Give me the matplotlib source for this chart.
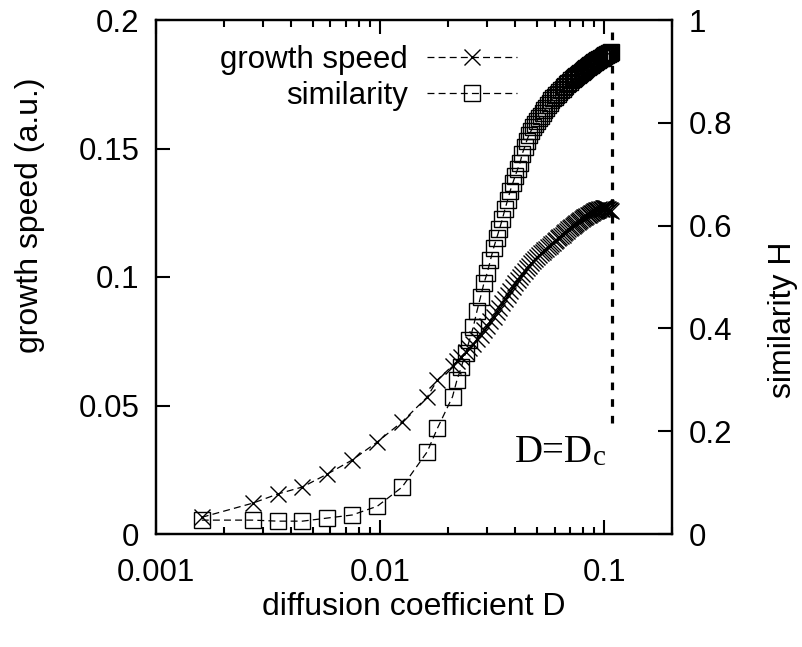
import matplotlib
matplotlib.use('Agg')
from matplotlib import pyplot as plt
from matplotlib.ticker import FixedLocator, FixedFormatter, LogLocator, NullFormatter

plt.rcParams['font.family'] = ['Liberation Sans', 'DejaVu Sans']
plt.rcParams['lines.scale_dashes'] = False

# diffusion coefficient D (x values shared by both series)
D = [0.0016, 0.0027, 0.0035, 0.0045, 0.0058, 0.0075, 0.0097, 0.0125, 0.0162, 0.018,
     0.021, 0.022, 0.023, 0.024, 0.025, 0.026, 0.027, 0.028, 0.029, 0.030,
     0.031, 0.032, 0.033, 0.034, 0.035, 0.036, 0.037, 0.038, 0.039, 0.040,
     0.041, 0.042, 0.043, 0.044, 0.045, 0.046, 0.047, 0.048, 0.049, 0.050,
     0.051, 0.052, 0.053, 0.054, 0.055, 0.056, 0.057, 0.058, 0.059, 0.060,
     0.061, 0.062, 0.063, 0.064, 0.065, 0.066, 0.067, 0.068, 0.069, 0.070,
     0.071, 0.072, 0.073, 0.074, 0.075, 0.076, 0.077, 0.078, 0.079, 0.080,
     0.081, 0.082, 0.083, 0.084, 0.085, 0.086, 0.087, 0.088, 0.089, 0.090,
     0.091, 0.092, 0.093, 0.094, 0.095, 0.096, 0.097, 0.098, 0.099, 0.100,
     0.101, 0.102, 0.103, 0.104, 0.105, 0.106, 0.107]

# growth speed (a.u.), left axis
speed = [0.0065, 0.0120, 0.0156, 0.0183, 0.0233, 0.0288, 0.0358, 0.0436, 0.0533, 0.0600,
         0.0655, 0.0672, 0.0690, 0.0707, 0.0724, 0.0741, 0.0758, 0.0775, 0.0792, 0.0809,
         0.0827, 0.0845, 0.0862, 0.0880, 0.0897, 0.0913, 0.0930, 0.0946, 0.0961, 0.0975,
         0.0988, 0.1000, 0.1012, 0.1023, 0.1034, 0.1044, 0.1053, 0.1062, 0.1070, 0.1078,
         0.1085, 0.1092, 0.1098, 0.1104, 0.1110, 0.1116, 0.1122, 0.1128, 0.1134, 0.1140,
         0.1145, 0.1150, 0.1155, 0.1160, 0.1165, 0.1170, 0.1175, 0.1180, 0.1185, 0.1190,
         0.1194, 0.1198, 0.1202, 0.1206, 0.1210, 0.1214, 0.1218, 0.1222, 0.1226, 0.1229,
         0.1232, 0.1235, 0.1238, 0.1241, 0.1243, 0.1245, 0.1248, 0.1250, 0.1252, 0.1255,
         0.1257, 0.1259, 0.1261, 0.1262, 0.1264, 0.1265, 0.1266, 0.1267, 0.1268, 0.1268,
         0.1268, 0.1267, 0.1266, 0.1264, 0.1262, 0.1260, 0.1258]

# similarity H, right axis
similarity = [0.027, 0.027, 0.025, 0.025, 0.031, 0.037, 0.054, 0.091, 0.160, 0.206,
              0.267, 0.300, 0.325, 0.352, 0.377, 0.403, 0.434, 0.461, 0.488, 0.508,
              0.533, 0.556, 0.575, 0.593, 0.612, 0.632, 0.650, 0.668, 0.683, 0.697,
              0.710, 0.722, 0.740, 0.752, 0.765, 0.776, 0.784, 0.792, 0.798, 0.804,
              0.809, 0.814, 0.819, 0.824, 0.829, 0.834, 0.839, 0.844, 0.848, 0.851,
              0.854, 0.857, 0.860, 0.863, 0.866, 0.869, 0.872, 0.875, 0.878, 0.880,
              0.883, 0.885, 0.887, 0.889, 0.891, 0.893, 0.895, 0.897, 0.899, 0.901,
              0.903, 0.905, 0.907, 0.908, 0.910, 0.912, 0.913, 0.915, 0.916, 0.918,
              0.919, 0.920, 0.922, 0.923, 0.925, 0.926, 0.927, 0.928, 0.929, 0.930,
              0.931, 0.932, 0.933, 0.934, 0.935, 0.936, 0.937]

D_c = 0.1075
D_c_span = [0.215, 0.978]   # on similarity axis

x_ticks = [0.001, 0.01, 0.1]
x_tick_labels = ['0.001', '0.01', '0.1']
speed_ticks = [0, 0.05, 0.1, 0.15, 0.2]
speed_tick_labels = ['0', '0.05', '0.1', '0.15', '0.2']
sim_ticks = [0, 0.2, 0.4, 0.6, 0.8, 1.0]
sim_tick_labels = ['0', '0.2', '0.4', '0.6', '0.8', '1']

fs = 22.5
lfs = 23

fig = plt.figure(figsize=(8.03, 6.47), dpi=100)
ax = fig.add_axes([156 / 803, 113 / 647, 516 / 803, 514 / 647])
ax2 = ax.twinx()

l1, = ax.plot(D, speed, color='black', lw=0.9, dashes=(5, 3), marker='x', ms=11,
              mew=1.0, label='growth speed')
l2, = ax2.plot(D, similarity, color='black', lw=0.9, dashes=(5, 3), marker='s', ms=11,
               mew=1.0, mfc='none', label='similarity')
ax2.plot([D_c, D_c], D_c_span, color='black', lw=2.3, dashes=(5.5, 6.5))

ax.set_xscale('log')
ax.set_xlim(0.001, 0.2)
ax.set_ylim(0, 0.2)
ax2.set_ylim(0, 1)

ax.xaxis.set_major_locator(FixedLocator(x_ticks))
ax.xaxis.set_major_formatter(FixedFormatter(x_tick_labels))
ax.xaxis.set_minor_locator(LogLocator(base=10, subs=[2, 3, 4, 5, 6, 7, 8, 9]))
ax.xaxis.set_minor_formatter(NullFormatter())
ax.set_yticks(speed_ticks, speed_tick_labels)
ax2.set_yticks(sim_ticks, sim_tick_labels)

ax.tick_params(which='both', direction='in', top=True, right=False, width=1.5,
               labelsize=fs)
ax.tick_params(which='major', length=10, pad=12)
ax.tick_params(which='minor', length=5)
ax.tick_params(axis='x', which='major', pad=17)
ax2.tick_params(direction='in', length=10, width=1.5, pad=12, labelsize=fs)

for a in (ax, ax2):
    for s in a.spines.values():
        s.set_linewidth(1.6)

ax.set_xlabel('diffusion coefficient D', fontsize=lfs, va='center')
ax.xaxis.set_label_coords(0.5, -0.142)
ax.set_ylabel('growth speed (a.u.)', fontsize=lfs, va='center')
ax.yaxis.set_label_coords(-0.244, 0.62)
ax2.set_ylabel('similarity H', fontsize=lfs, va='center', rotation=90)
ax2.yaxis.set_label_coords(1.215, 0.416)

ax2.legend(handles=[l1, l2], loc='upper right', bbox_to_anchor=(0.70, 0.952),
           frameon=False, markerfirst=False, fontsize=fs, handlelength=2.9,
           handletextpad=0.6, labelspacing=0.2, borderpad=0, borderaxespad=0)

ax.text(0.696, 0.140, 'D=D', transform=ax.transAxes, fontsize=28,
        family='Liberation Serif', va='baseline', ha='left')
ax.text(0.847, 0.134, 'c', transform=ax.transAxes, fontsize=21,
        family='Liberation Serif', va='baseline', ha='left')

fig.savefig('out.png', dpi=100)
